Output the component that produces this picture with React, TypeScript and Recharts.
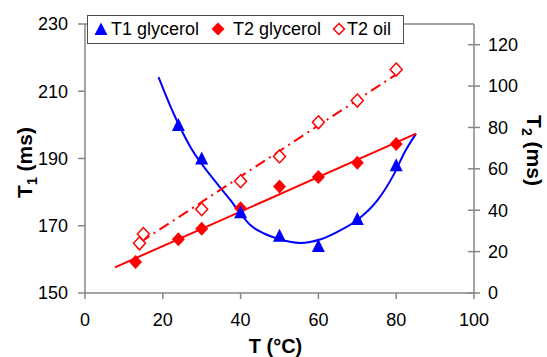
import { ComposedChart, Line, Scatter, XAxis, YAxis, ReferenceLine, Label } from 'recharts';

const FONT = '"Liberation Sans", Arial, sans-serif';
const AXIS_GRAY = '#868686';
const RED = '#ff0000';
const BLUE = '#0000ff';

// T1 glycerol (left axis)
const t1Temp = [24, 30, 40, 50, 60, 70, 80];
const t1Glycerol = [200, 190, 174, 167, 164, 172, 188];

// T2 glycerol (right axis)
const t2GlyTemp = [13, 24, 30, 40, 50, 60, 70, 80];
const t2Glycerol = [15, 26, 31, 41, 51.5, 56, 63, 72];

// T2 oil (right axis)
const t2OilTemp = [14, 15, 30, 40, 50, 60, 70, 80];
const t2Oil = [24, 28.5, 40.5, 54, 66, 82.5, 93, 108];

// trend lines
const t1FitTemp = [18.9, 20.6, 22.8, 27.1, 33.9, 37.4, 39.9, 42.5, 46.0, 49.4, 55.4, 60.6, 64.9, 70.0, 75.2, 79.5, 82.0, 85.1];
const t1FitValue = [214.2, 209.3, 203.3, 193.4, 182.6, 177.6, 173.7, 170.2, 167.7, 166.2, 164.9, 166.0, 168.2, 171.7, 177.6, 185.5, 191.5, 197.4];
const t2GlyFitTemp = [7.7, 85.1];
const t2GlyFitValue = [12.4, 77.0];
const t2OilFitTemp = [14.2, 80.3];
const t2OilFitValue = [24.5, 106];

const xTicks = [0, 20, 40, 60, 80, 100];
const t1Ticks = [150, 170, 190, 210, 230];
const t2Ticks = [0, 20, 40, 60, 80, 100, 120];

const toPoints = (xs: number[], ys: number[]) => xs.map((x, i) => ({ x, y: ys[i] }));

const Triangle = (props: any) => {
  const { cx, cy } = props;
  return <polygon points={`${cx},${cy - 7} ${cx - 6.5},${cy + 6} ${cx + 6.5},${cy + 6}`} fill={BLUE} />;
};

const Diamond = (props: any) => {
  const { cx, cy } = props;
  return <polygon points={`${cx},${cy - 7} ${cx + 6.5},${cy} ${cx},${cy + 7} ${cx - 6.5},${cy}`} fill={RED} />;
};

const OpenDiamond = (props: any) => {
  const { cx, cy } = props;
  return (
    <polygon
      points={`${cx},${cy - 6.5} ${cx + 6},${cy} ${cx},${cy + 6.5} ${cx - 6},${cy}`}
      fill="#fff"
      stroke={RED}
      strokeWidth={1.5}
    />
  );
};

const tickStyle = { fontSize: 18, fill: '#000', fontFamily: FONT };

// right axis ticks cross the axis line
const RIGHT_TICK = 6;
const RIGHT_MARGIN = 8;
const RightTick = (props: any) => {
  const { x, y, payload } = props;
  const axisX = x - RIGHT_TICK - RIGHT_MARGIN;
  return (
    <g>
      <line x1={axisX - 6} x2={axisX + 6} y1={y} y2={y} stroke={AXIS_GRAY} strokeWidth={1.5} />
      <text x={x} y={y} dy="0.355em" textAnchor="start" fontSize={18} fontFamily={FONT} fill="#000">
        {payload.value}
      </text>
    </g>
  );
};

const LeftTitle = ({ viewBox }: any) => {
  const x = viewBox.x + 7;
  const y = viewBox.y + viewBox.height / 2 + 4;
  return (
    <text x={x} y={y} transform={`rotate(-90, ${x}, ${y})`} textAnchor="middle" fontFamily={FONT} fontWeight="bold" fontSize={21} fill="#000">
      T<tspan fontSize={14} dy={5}>1</tspan>
      <tspan dy={-5}> (ms)</tspan>
    </text>
  );
};

const RightTitle = ({ viewBox }: any) => {
  const x = viewBox.x + 53;
  const y = viewBox.y + viewBox.height / 2 - 8;
  return (
    <text x={x} y={y} transform={`rotate(90, ${x}, ${y})`} textAnchor="middle" fontFamily={FONT} fontWeight="bold" fontSize={21} fill="#000">
      T<tspan fontSize={14} dy={5}>2</tspan>
      <tspan dy={-5}> (ms)</tspan>
    </text>
  );
};

const BottomTitle = ({ viewBox }: any) => {
  const x = viewBox.x + viewBox.width / 2 - 4;
  const y = viewBox.y + 60;
  return (
    <text x={x} y={y} textAnchor="middle" fontFamily={FONT} fontWeight="bold" fontSize={20} fill="#000">
      T (°C)
    </text>
  );
};

const legendItems = [
  { label: 'T1 glycerol', icon: 'triangle', iconLeft: 6, textLeft: 23 },
  { label: 'T2 glycerol', icon: 'diamond', iconLeft: 123, textLeft: 145 },
  { label: 'T2 oil', icon: 'open', iconLeft: 244, textLeft: 259 },
];

const LegendIcon = ({ kind }: { kind: string }) => (
  <svg width={14} height={14} style={{ display: 'block' }}>
    {kind === 'triangle' && <polygon points="7,0.5 0.5,13 13.5,13" fill={BLUE} />}
    {kind === 'diamond' && <polygon points="7,0.5 13.5,7 7,13.5 0.5,7" fill={RED} />}
    {kind === 'open' && <polygon points="7,1.5 12.5,7 7,12.5 1.5,7" fill="#fff" stroke={RED} strokeWidth={1.5} />}
  </svg>
);

const App = () => {
  return (
    <div style={{ position: 'absolute', left: 0, top: 0, width: 547, height: 357, background: '#fff' }}>
      <ComposedChart width={547} height={357} margin={{ top: 24, right: 13, left: 25, bottom: 24 }}>
        <XAxis
          type="number"
          dataKey="x"
          domain={[0, 100]}
          ticks={xTicks}
          allowDataOverflow
          height={40}
          tick={tickStyle}
          tickSize={6}
          tickMargin={14}
          stroke={AXIS_GRAY}
          strokeWidth={1.5}
        >
          <Label content={BottomTitle} />
        </XAxis>
        <YAxis
          yAxisId="t1"
          type="number"
          domain={[150, 230]}
          ticks={t1Ticks}
          allowDataOverflow
          width={60}
          tick={tickStyle}
          tickSize={7}
          tickMargin={10}
          stroke={AXIS_GRAY}
          strokeWidth={1.5}
        >
          <Label content={LeftTitle} />
        </YAxis>
        <YAxis
          yAxisId="t2"
          orientation="right"
          type="number"
          domain={[0, 130]}
          ticks={t2Ticks}
          allowDataOverflow
          width={60}
          tick={RightTick}
          tickLine={false}
          tickSize={RIGHT_TICK}
          tickMargin={RIGHT_MARGIN}
          stroke={AXIS_GRAY}
          strokeWidth={1.5}
        >
          <Label content={RightTitle} />
        </YAxis>
        <ReferenceLine yAxisId="t1" y={230} stroke={AXIS_GRAY} strokeWidth={1.5} />

        <Line
          yAxisId="t1"
          data={toPoints(t1FitTemp, t1FitValue)}
          dataKey="y"
          type="monotone"
          stroke={BLUE}
          strokeWidth={2}
          dot={false}
          activeDot={false}
          isAnimationActive={false}
        />
        <Line
          yAxisId="t2"
          data={toPoints(t2GlyFitTemp, t2GlyFitValue)}
          dataKey="y"
          type="linear"
          stroke={RED}
          strokeWidth={2}
          dot={false}
          activeDot={false}
          isAnimationActive={false}
        />
        <Line
          yAxisId="t2"
          data={toPoints(t2OilFitTemp, t2OilFitValue)}
          dataKey="y"
          type="linear"
          stroke={RED}
          strokeWidth={2}
          strokeDasharray="11 5 2 5"
          dot={false}
          activeDot={false}
          isAnimationActive={false}
        />

        <Scatter yAxisId="t2" data={toPoints(t2OilTemp, t2Oil)} dataKey="y" shape={OpenDiamond} isAnimationActive={false} />
        <Scatter yAxisId="t2" data={toPoints(t2GlyTemp, t2Glycerol)} dataKey="y" shape={Diamond} isAnimationActive={false} />
        <Scatter yAxisId="t1" data={toPoints(t1Temp, t1Glycerol)} dataKey="y" shape={Triangle} isAnimationActive={false} />
      </ComposedChart>

      <div
        style={{
          position: 'absolute',
          left: 87,
          top: 15,
          width: 315,
          height: 27,
          border: '1px solid #4d4d4d',
          background: '#fff',
          fontFamily: FONT,
          fontSize: 18,
          color: '#000',
        }}
      >
        {legendItems.map((item) => (
          <div key={item.label}>
            <div style={{ position: 'absolute', left: item.iconLeft, top: 6 }}>
              <LegendIcon kind={item.icon} />
            </div>
            <div style={{ position: 'absolute', left: item.textLeft, top: 3, lineHeight: '21px', whiteSpace: 'nowrap' }}>
              {item.label}
            </div>
          </div>
        ))}
      </div>
    </div>
  );
};

export default App;
